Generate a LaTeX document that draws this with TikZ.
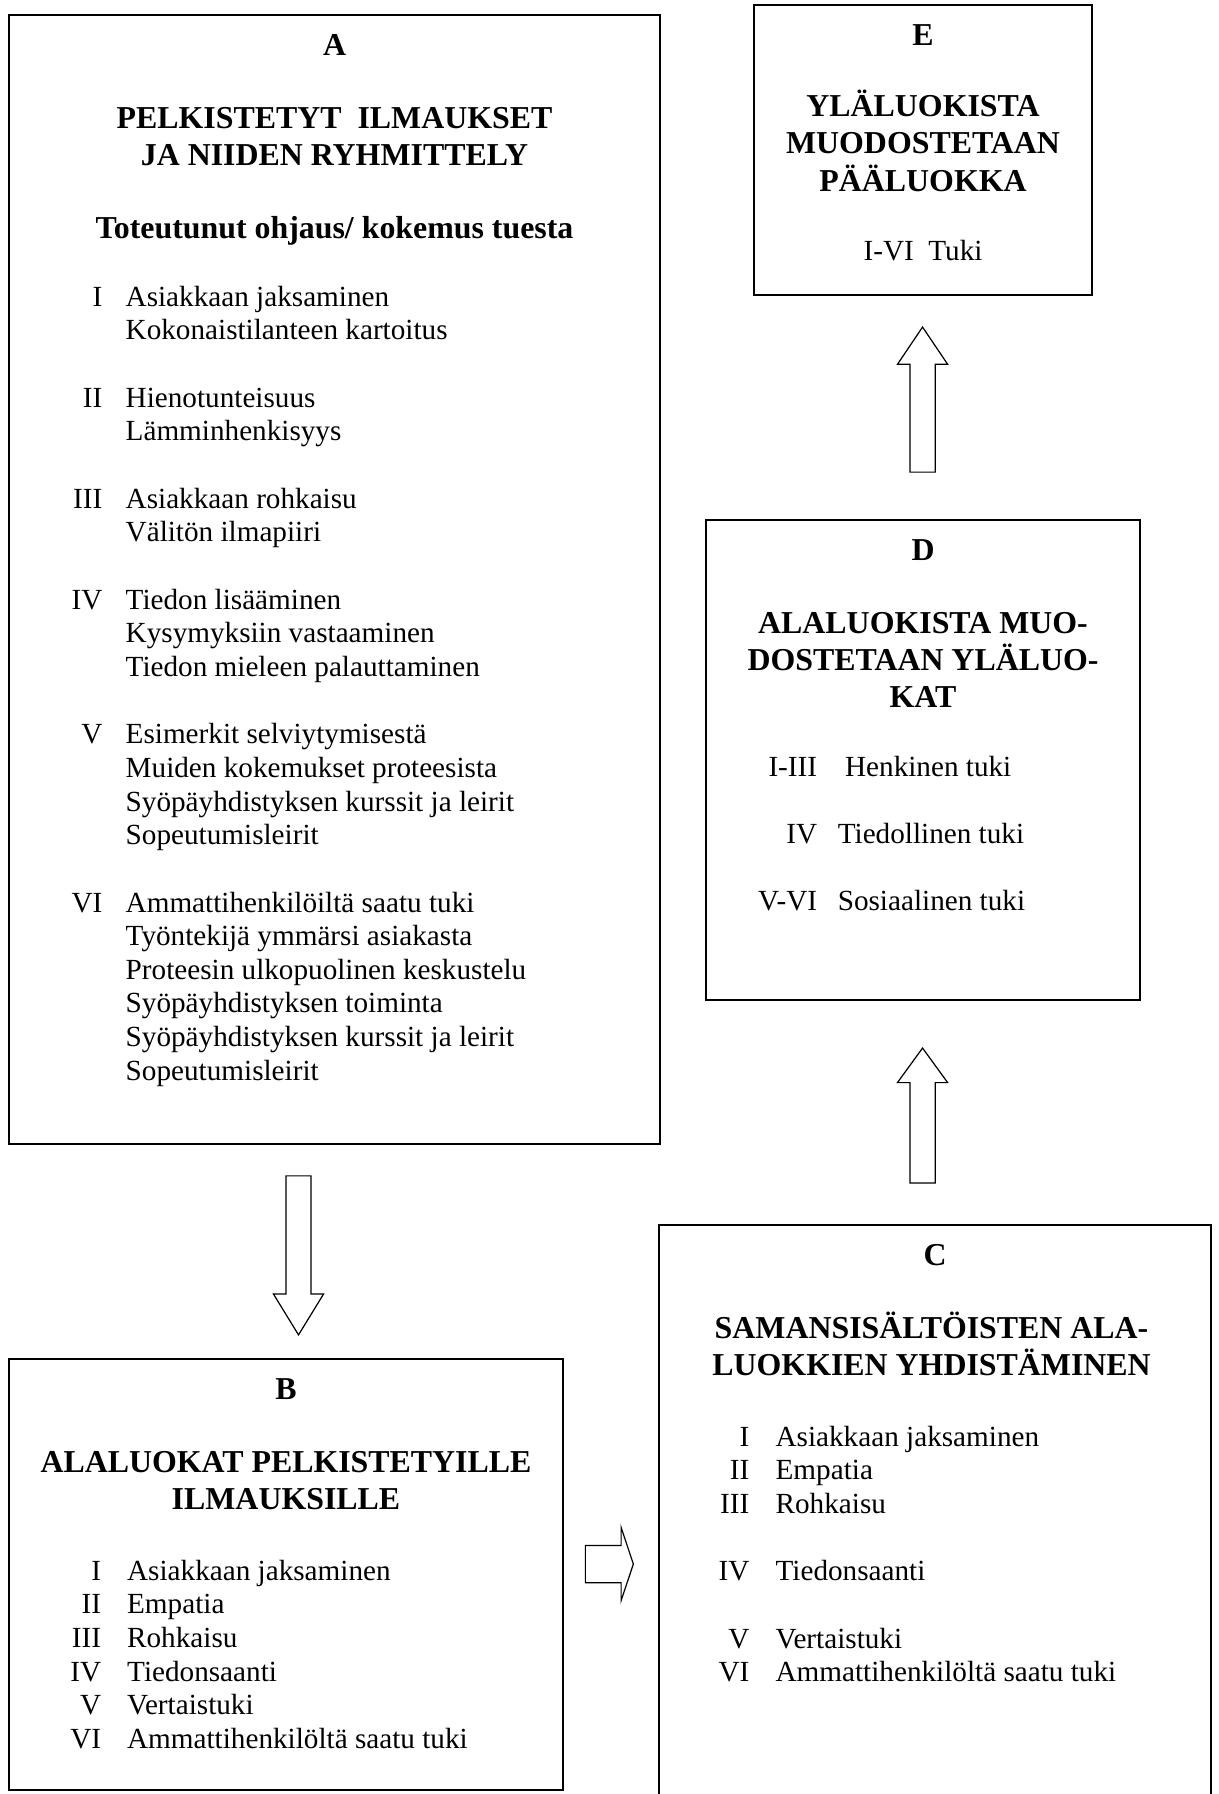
\documentclass[tikz,border=0pt]{standalone}
\usepackage{fontspec}
\setmainfont{Liberation Serif}
\usepackage{tikz}
\usetikzlibrary{shapes.arrows}

\tikzset{
	box/.style={draw, line width=0.6pt, inner sep=0pt},
	tag/.style={anchor=base, inner sep=0pt, font=\fontsize{13.1}{15.08}\selectfont\bfseries},
	head/.style={anchor=base, inner sep=0pt, font=\fontsize{13.1}{15.08}\selectfont\bfseries},
	list/.style={anchor=base west, inner sep=0pt, font=\fontsize{12}{13.83}\selectfont},
	fatarrow/.style={single arrow, draw, fill=white, line width=0.5pt, anchor=tip,
		inner xsep=0pt, inner ysep=0.173cm, single arrow head extend=0.181cm, minimum width=0pt}
}

\begin{document}
\begin{tikzpicture}
				\useasboundingbox (0, 0) rectangle (17.594, -25.914);
				% Boxes:
				\node[box, minimum width=9.404cm, minimum height=16.308cm](A) at (4.832, -8.371){};
				\node[box, minimum width=8.003cm, minimum height=6.226cm](B) at (4.131, -22.744){};
				\node[box, minimum width=7.974cm, minimum height=9.173cm](C) at (13.506, -22.282){};
				\node[box, minimum width=6.269cm, minimum height=6.934cm](D) at (13.333, -10.978){};
				\node[box, minimum width=4.882cm, minimum height=4.189cm](E) at (13.333, -2.167){};
				% Box A:
				\node[tag](Atag) at ([yshift=-0.6cm]A.north){A};
				\node[head](Ahead) at ([yshift=-1.647cm]A.north){\begin{tabular}[t]{@{}c@{}}PELKISTETYT\ \ ILMAUKSET\\JA NIIDEN RYHMITTELY\end{tabular}};
				\node[head](Asub) at ([yshift=-3.236cm]A.north){Toteutunut ohjaus/ kokemus tuesta};
				\node[list](Alist) at ([xshift=0.907cm, yshift=-4.218cm]A.north west){\begin{tabular}[t]{@{}r@{\hspace{9.6pt}}l@{}}
					I & Asiakkaan jaksaminen\\
					& Kokonaistilanteen kartoitus\\
					& \\
					II & Hienotunteisuus\\
					& Lämminhenkisyys\\
					& \\
					III & Asiakkaan rohkaisu\\
					& Välitön ilmapiiri\\
					& \\
					IV & Tiedon lisääminen\\
					& Kysymyksiin vastaaminen\\
					& Tiedon mieleen palauttaminen\\
					& \\
					V & Esimerkit selviytymisestä\\
					& Muiden kokemukset proteesista\\
					& Syöpäyhdistyksen kurssit ja leirit\\
					& Sopeutumisleirit\\
					& \\
					VI & Ammattihenkilöiltä saatu tuki\\
					& Työntekijä ymmärsi asiakasta\\
					& Proteesin ulkopuolinen keskustelu\\
					& Syöpäyhdistyksen toiminta\\
					& Syöpäyhdistyksen kurssit ja leirit\\
					& Sopeutumisleirit
				\end{tabular}};
				% Box B:
				\node[tag](Btag) at ([yshift=-0.6cm]B.north){B};
				\node[head](Bhead) at ([yshift=-1.647cm]B.north){\begin{tabular}[t]{@{}c@{}}ALALUOKAT PELKISTETYILLE\\ILMAUKSILLE\end{tabular}};
				\node[list](Blist) at ([xshift=0.890cm, yshift=-3.207cm]B.north west){\begin{tabular}[t]{@{}r@{\hspace{10.7pt}}l@{}}
					I & Asiakkaan jaksaminen\\
					II & Empatia\\
					III & Rohkaisu\\
					IV & Tiedonsaanti\\
					V & Vertaistuki\\
					VI & Ammattihenkilöltä saatu tuki
				\end{tabular}};
				% Box C:
				\node[tag](Ctag) at ([yshift=-0.6cm]C.north){C};
				\node[head](Chead) at ([xshift=-0.05cm, yshift=-1.647cm]C.north){\begin{tabular}[t]{@{}c@{}}SAMANSISÄLTÖISTEN ALA-\\LUOKKIEN YHDISTÄMINEN\end{tabular}};
				\node[list](Clist) at ([xshift=0.864cm, yshift=-3.207cm]C.north west){\begin{tabular}[t]{@{}r@{\hspace{10.8pt}}l@{}}
					I & Asiakkaan jaksaminen\\
					II & Empatia\\
					III & Rohkaisu\\
					& \\
					IV & Tiedonsaanti\\
					& \\
					V & Vertaistuki\\
					VI & Ammattihenkilöltä saatu tuki
				\end{tabular}};
				% Box D:
				\node[tag](Dtag) at ([yshift=-0.6cm]D.north){D};
				\node[head](Dhead) at ([yshift=-1.647cm]D.north){\begin{tabular}[t]{@{}c@{}}ALALUOKISTA MUO-\\DOSTETAAN YLÄLUO-\\KAT\end{tabular}};
				\node[list](Dlist) at ([xshift=0.757cm, yshift=-3.712cm]D.north west){\begin{tabular}[t]{@{}r@{\hspace{8.5pt}}l@{}}
					I-III & \hspace{3pt}Henkinen tuki\\
					& \\
					IV & Tiedollinen tuki\\
					& \\
					V-VI & Sosiaalinen tuki
				\end{tabular}};
				% Box E:
				\node[tag](Etag) at ([yshift=-0.6cm]E.north){E};
				\node[head](Ehead) at ([yshift=-1.625cm]E.north){\begin{tabular}[t]{@{}c@{}}YLÄLUOKISTA\\MUODOSTETAAN\\PÄÄLUOKKA\end{tabular}};
				\node[list, anchor=base](Eitem) at ([yshift=-3.698cm]E.north){I-VI\ \ Tuki};
				% Arrows:
				\node[fatarrow, rotate=-90, minimum height=2.297cm, single arrow tip angle=63](ArAB) at (4.312, -19.299){};
				\node[fatarrow, minimum height=0.693cm, inner ysep=0.26cm, single arrow head extend=0.26cm, single arrow tip angle=143](ArBC) at (9.158, -22.592){};
				\node[fatarrow, rotate=90, minimum height=1.950cm, single arrow tip angle=72](ArCD) at (13.326, -15.124){};
				\node[fatarrow, rotate=90, minimum height=2.095cm, single arrow tip angle=68](ArDE) at (13.326, -4.709){};
			\end{tikzpicture}
\end{document}
